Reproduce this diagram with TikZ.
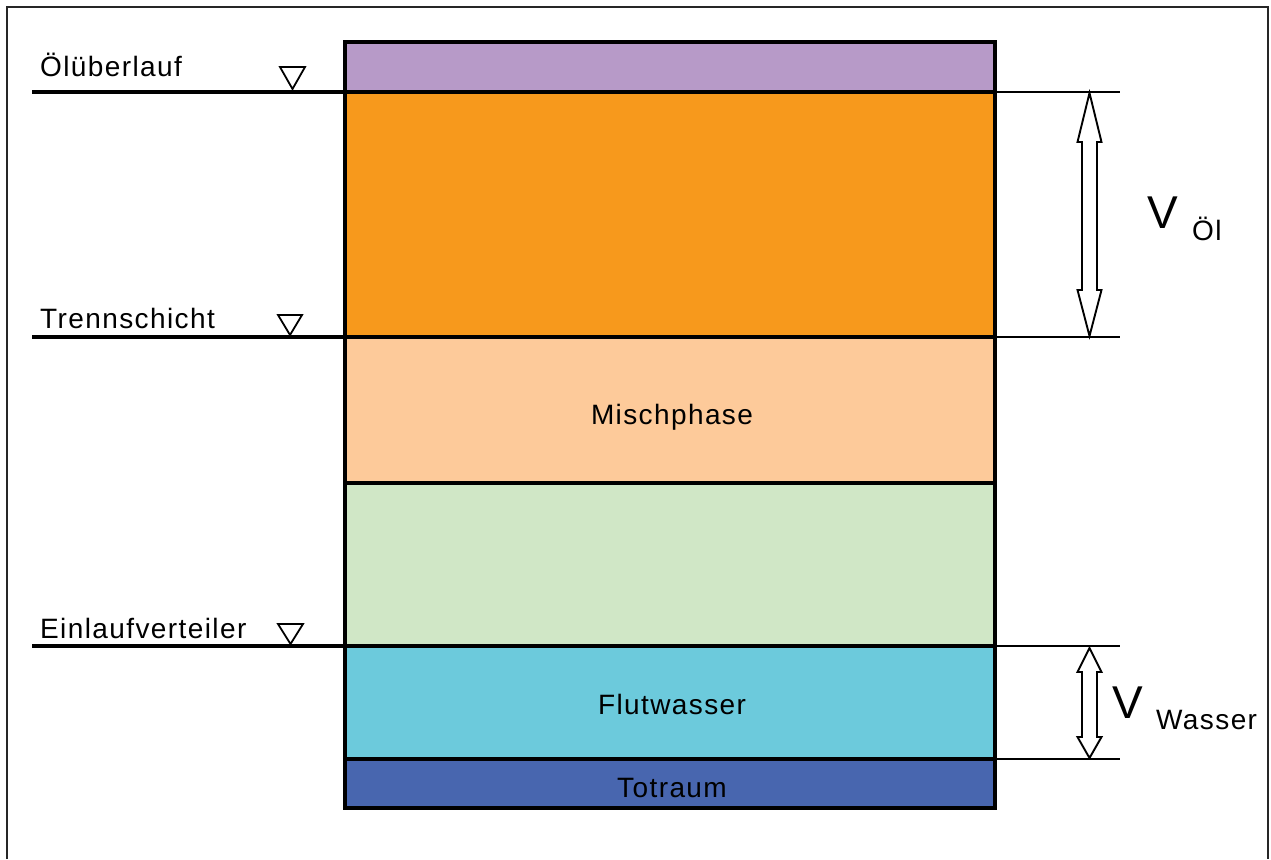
\documentclass[tikz,border=0pt]{standalone}
\usepackage{fontspec}
\setmainfont{Liberation Sans}[LetterSpace=5]
\definecolor{cPurple}{RGB}{183,154,200}
\definecolor{cOrange}{RGB}{247,153,28}
\definecolor{cPeach}{RGB}{253,202,154}
\definecolor{cGreen}{RGB}{208,231,198}
\definecolor{cCyan}{RGB}{108,202,220}
\definecolor{cBlue}{RGB}{72,102,175}
\begin{document}
\begin{tikzpicture}[x=1pt,y=-1pt,
  lbl/.style={inner sep=0pt, anchor=base west, font=\fontsize{28}{32}\selectfont},
  midlbl/.style={inner sep=0pt, anchor=base, font=\fontsize{28}{32}\selectfont},
  bigV/.style={inner sep=0pt, anchor=base west, font=\fontsize{46}{50}\selectfont\addfontfeatures{LetterSpace=0}},
  level/.style={line width=3.8pt},
  dimline/.style={line width=1.8pt},
  sep/.style={line width=3.8pt},
  marker/.style={line width=1.8pt, line join=miter},
  hollow/.style={line width=1.9pt, line join=miter, fill=white}]
\useasboundingbox (0,0) rectangle (1271,859);
\fill[white] (0,0) rectangle (1271,859);
\draw[line width=2.2pt, black!85] (7,859) -- (7,7) -- (1268,7) -- (1268,859);

% layers
\fill[cPurple] (345,42) rectangle (995,92);
\fill[cOrange] (345,92) rectangle (995,337);
\fill[cPeach]  (345,337) rectangle (995,483);
\fill[cGreen]  (345,483) rectangle (995,646);
\fill[cCyan]   (345,646) rectangle (995,759);
\fill[cBlue]   (345,759) rectangle (995,808);
\foreach \yy in {92,337,483,646,759} \draw[sep] (345,\yy) -- (995,\yy);
\draw[line width=4.5pt] (345,42) rectangle (995,808);

% named coordinates
\coordinate (L1) at (32,92);  \coordinate (T1) at (345,92);
\coordinate (L2) at (32,337); \coordinate (T2) at (345,337);
\coordinate (L3) at (32,646); \coordinate (T3) at (345,646);
\coordinate (R1a) at (995,92);  \coordinate (R1b) at (1120,92);
\coordinate (R2a) at (995,337); \coordinate (R2b) at (1120,337);
\coordinate (R3a) at (995,646); \coordinate (R3b) at (1120,646);
\coordinate (R4a) at (995,759); \coordinate (R4b) at (1120,759);

\draw[level] (L1) -- (T1);
\draw[level] (L2) -- (T2);
\draw[level] (L3) -- (T3);
\draw[dimline] (R1a) -- (R1b);
\draw[dimline] (R2a) -- (R2b);
\draw[dimline] (R3a) -- (R3b);
\draw[dimline] (R4a) -- (R4b);

% level markers
\draw[marker] (280,67) -- (305,67) -- (292.5,89) -- cycle;
\draw[marker] (278,315) -- (302,315) -- (290,335) -- cycle;
\draw[marker] (278,624) -- (303,624) -- (290.5,644) -- cycle;

% labels
\node[lbl] (oel) at (40,77) {Ölüberlauf};
\node[lbl] (trenn) at (40,328) {Trennschicht};
\node[lbl] (einl) at (40,638) {Einlaufverteiler};
\node[midlbl] (misch) at (672,424) {Mischphase};
\node[midlbl] (flut) at (672,714) {Flutwasser};
\node[midlbl] (tot) at (672,797) {Totraum};

% hollow double arrows
\draw[hollow] (1089.5,93) -- (1101.5,142) -- (1097,142) -- (1097,290) -- (1101.5,290)
  -- (1089.5,336) -- (1077.5,290) -- (1082,290) -- (1082,142) -- (1077.5,142) -- cycle;
\draw[hollow] (1089.5,648) -- (1101.5,672) -- (1097,672) -- (1097,737) -- (1101.5,737)
  -- (1089.5,758) -- (1077.5,737) -- (1082,737) -- (1082,672) -- (1077.5,672) -- cycle;

% volume labels
\node[bigV] (v1) at (1147,228) {V};
\node[lbl] (v1s) at (1192,240) {Öl};
\node[bigV] (v2) at (1112,718) {V};
\node[lbl] (v2s) at (1156,729) {Wasser};
\end{tikzpicture}
\end{document}
